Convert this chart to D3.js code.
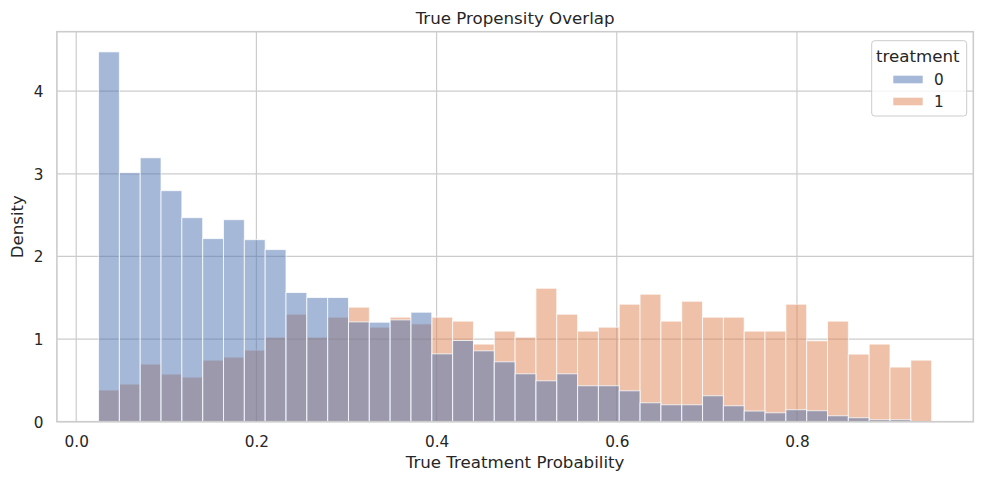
<!DOCTYPE html>
<html>
<head>
<meta charset="utf-8">
<script src="https://cdn.jsdelivr.net/npm/d3@7"></script>
<style>
  html, body { margin: 0; padding: 0; background: #fff; }
  svg { display: block; font-family: "DejaVu Sans", sans-serif; }
</style>
</head>
<body>
<svg id="chart" width="984" height="484"></svg>
<script>
// ---- Data ----
const binStart = 0.0248;
const binEnd = 0.9495;
const binCount = 40;

const treatment0 = [4.476, 3.013, 3.194, 2.796, 2.469, 2.216, 2.445, 2.203, 2.083, 1.563,
                    1.503, 1.503, 1.208, 1.204, 1.232, 1.325, 0.821, 0.983, 0.858, 0.725,
                    0.580, 0.495, 0.580, 0.435, 0.435, 0.374, 0.229, 0.205, 0.205, 0.314,
                    0.193, 0.129, 0.108, 0.145, 0.133, 0.072, 0.048, 0.024, 0.024, 0.000];
const treatment1 = [0.383, 0.455, 0.697, 0.576, 0.540, 0.745, 0.782, 0.866, 1.023, 1.301,
                    1.023, 1.265, 1.386, 1.144, 1.265, 1.184, 1.265, 1.217, 0.939, 1.096,
                    1.023, 1.615, 1.301, 1.096, 1.144, 1.422, 1.543, 1.217, 1.458, 1.265,
                    1.265, 1.096, 1.096, 1.422, 0.979, 1.217, 0.818, 0.939, 0.661, 0.745];
const hueLevels = ["0", "1"];
const xTicks = [0.0, 0.2, 0.4, 0.6, 0.8];
const yTicks = [0, 1, 2, 3, 4];
const yLimit = [0, 4.72];
const title = "True Propensity Overlap";
const xLabel = "True Treatment Probability";
const yLabel = "Density";
const legendTitle = "treatment";

// ---- Layout ----
const plot = { left: 56.9, right: 973.3, top: 31.7, bottom: 421.7 };
const colors = { "0": "#4C72B0", "1": "#DD8452" };
const textColor = "#262626";
const gridColor = "#cccccc";

const binW = (binEnd - binStart) / binCount;
const edges = d3.range(binCount + 1).map(i => binStart + i * binW);
const span = binEnd - binStart;
const x = d3.scaleLinear()
  .domain([binStart - 0.05 * span, binEnd + 0.05 * span])
  .range([plot.left, plot.right]);
const y = d3.scaleLinear().domain(yLimit).range([plot.bottom, plot.top]);

const svg = d3.select("#chart");

// Grid
const grid = svg.append("g");
grid.selectAll("line.gx").data(xTicks).enter().append("line")
  .attr("x1", d => x(d)).attr("x2", d => x(d))
  .attr("y1", plot.top).attr("y2", plot.bottom)
  .attr("stroke", gridColor).attr("stroke-width", 1.2);
grid.selectAll("line.gy").data(yTicks).enter().append("line")
  .attr("x1", plot.left).attr("x2", plot.right)
  .attr("y1", d => y(d)).attr("y2", d => y(d))
  .attr("stroke", gridColor).attr("stroke-width", 1.2);

// Bars: treatment 1 first, treatment 0 on top
const series = [
  { key: "1", values: treatment1 },
  { key: "0", values: treatment0 }
];
series.forEach(s => {
  svg.append("g").selectAll("rect").data(s.values).enter().append("rect")
    .attr("x", (d, i) => x(edges[i]))
    .attr("width", (d, i) => x(edges[i + 1]) - x(edges[i]))
    .attr("y", d => y(d))
    .attr("height", d => y(0) - y(d))
    .attr("fill", colors[s.key]).attr("fill-opacity", 0.5)
    .attr("stroke", "#ffffff").attr("stroke-opacity", 0.75).attr("stroke-width", 1);
});

// Spines
svg.append("rect")
  .attr("x", plot.left).attr("y", plot.top)
  .attr("width", plot.right - plot.left).attr("height", plot.bottom - plot.top)
  .attr("fill", "none").attr("stroke", gridColor).attr("stroke-width", 1.6);

// Axes ticks via d3 axes (no tick lines, labels only)
const xAxis = d3.axisBottom(x).tickValues(xTicks).tickFormat(d3.format(".1f")).tickSize(0).tickPadding(0);
const gx = svg.append("g").attr("transform", `translate(0,${plot.bottom})`).call(xAxis);
gx.select(".domain").remove();
gx.selectAll("text").attr("dy", null).attr("y", 25.8)
  .attr("fill", textColor).style("font-size", "15.28px").style("font-family", "DejaVu Sans");

const yAxis = d3.axisLeft(y).tickValues(yTicks).tickFormat(d3.format("d")).tickSize(0).tickPadding(0);
const gy = svg.append("g").attr("transform", `translate(${plot.left},0)`).call(yAxis);
gy.select(".domain").remove();
gy.selectAll("text").attr("x", -13.5).attr("dy", "0.36em")
  .attr("fill", textColor).style("font-size", "15.28px").style("font-family", "DejaVu Sans");

// Title & labels
svg.append("text").attr("x", (plot.left + plot.right) / 2).attr("y", 23.7)
  .attr("text-anchor", "middle").attr("fill", textColor)
  .style("font-size", "16.67px").text(title);
svg.append("text").attr("x", (plot.left + plot.right) / 2).attr("y", 467.5)
  .attr("text-anchor", "middle").attr("fill", textColor)
  .style("font-size", "16.67px").text(xLabel);
svg.append("text").attr("transform", `translate(23,${(plot.top + plot.bottom) / 2}) rotate(-90)`)
  .attr("text-anchor", "middle").attr("fill", textColor)
  .style("font-size", "16.67px").text(yLabel);

// Legend
const lg = svg.append("g");
lg.append("rect").attr("x", 871.7).attr("y", 40.7).attr("width", 95).attr("height", 75.3)
  .attr("rx", 3).attr("ry", 3)
  .attr("fill", "#ffffff").attr("fill-opacity", 0.8)
  .attr("stroke", gridColor).attr("stroke-width", 1);
lg.append("text").attr("x", 917.8).attr("y", 61.7).attr("text-anchor", "middle")
  .attr("fill", textColor).style("font-size", "16.67px").text(legendTitle);
hueLevels.forEach((k, i) => {
  const cy = 79.5 + i * 22;
  lg.append("rect").attr("x", 893.3).attr("y", cy - 3.8).attr("width", 29.4).attr("height", 7.6)
    .attr("fill", colors[k]).attr("fill-opacity", 0.5);
  lg.append("text").attr("x", 934).attr("y", cy).attr("dy", "0.36em")
    .attr("fill", textColor).style("font-size", "15.28px").text(k);
});
</script>
</body>
</html>
